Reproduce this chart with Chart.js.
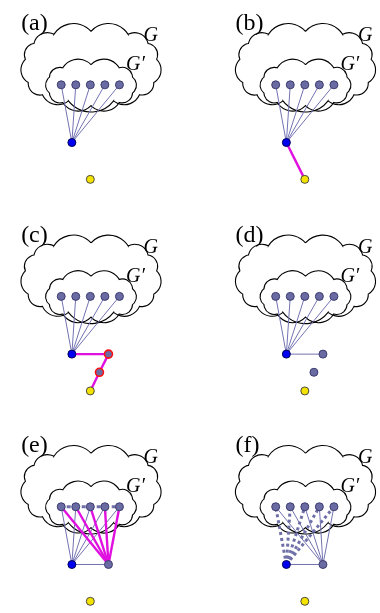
<!DOCTYPE html>
<html>
<head>
<meta charset="utf-8">
<script src="https://cdn.jsdelivr.net/npm/chart.js@4.4.0/dist/chart.umd.min.js"></script>
<style>
html, body { margin: 0; padding: 0; background: #fff; overflow: hidden; }
</style>
</head>
<body>
<canvas id="figure" width="380" height="613"></canvas>
<script>
// panel labels and where each panel sits on the page
var panelNames = ['(a)', '(b)', '(c)', '(d)', '(e)', '(f)'];
var panelX = [0, 221, 0, 221, 0, 221];
var panelY = [0, 0, 215.5, 215.5, 429.8, 429.8];

// node positions inside one panel
var topX = [57.3, 72.3, 87.3, 102.3, 117.3];
var topY = 80.7;
var hub = [68.3, 139.5];
var leaf = [87.3, 177];
var chainX = [106, 96.7];
var chainY = [139.5, 158];

// clouds: [centerX, centerY, radiusX, radiusY, bumps, squareness]
var cloudG = [88, 62, 68, 36, 13, 0.75];
var cloudGp = [88, 81, 44.5, 21, 10, 0.8];

var slate = '#6b6ba3';
var thin = { color: '#7272b2', width: 1 };
var magenta = { color: '#e010e0', width: 2.4 };
var dotted = { color: '#7070a8', width: 3, dash: [3, 3] };
var dashedPath = { color: '#7070a8', width: 3, dash: [4, 3.5], offset: 2 };

var datasets = [];
var nodes = [];

function edge(p, q, st) {
    datasets.push({
        type: 'line',
        data: [{ x: p[0], y: p[1] }, { x: q[0], y: q[1] }],
        borderColor: st.color,
        borderWidth: st.width,
        borderDash: st.dash || [],
        borderDashOffset: st.offset || 0,
        pointRadius: 0,
        fill: false,
        order: 2
    });
}
function node(p, fill, border, bw) {
    nodes.push({ x: p[0], y: p[1], fill: fill, border: border, bw: bw || 1 });
}

for (var k = 0; k < 6; k++) {
    var ox = panelX[k], oy = panelY[k];
    var at = function (x, y) { return [x + ox, y + oy]; };
    var H = at(hub[0], hub[1]);
    var L = at(leaf[0], leaf[1]);
    var C0 = at(chainX[0], chainY[0]);
    var C1 = at(chainX[1], chainY[1]);
    var tops = topX.map(function (x) { return at(x, topY); });

    for (var i = 0; i < tops.length; i++) {
        if (k == 5) {
            edge(H, tops[i], dotted);
            edge(C0, tops[i], thin);
        } else {
            edge(H, tops[i], thin);
        }
        if (k == 4) edge(C0, tops[i], magenta);
    }
    if (k == 1) edge(H, L, magenta);
    if (k == 2) {
        edge(H, C0, magenta);
        edge(C0, C1, magenta);
        edge(C1, L, magenta);
    }
    if (k >= 3) edge(H, C0, thin);
    if (k == 4) edge(tops[0], tops[4], dashedPath);

    tops.forEach(function (t) { node(t, slate, '#3c3c70'); });
    node(H, '#0000f0', '#00005a');
    node(L, '#f4e200', '#4a4a40');
    if (k == 2) {
        node(C0, slate, '#ff1010', 1.6);
        node(C1, slate, '#ff1010', 1.6);
    } else if (k == 3) {
        node(C0, slate, '#3c3c70');
        node(C1, slate, '#3c3c70');
    } else if (k >= 4) {
        node(C0, slate, '#3c3c70');
    }
}

datasets.push({
    type: 'scatter',
    data: nodes.map(function (n) { return { x: n.x, y: n.y }; }),
    backgroundColor: nodes.map(function (n) { return n.fill; }),
    borderColor: nodes.map(function (n) { return n.border; }),
    borderWidth: nodes.map(function (n) { return n.bw; }),
    pointRadius: 4,
    order: 0
});

function sq(v, e) {
    return (v < 0 ? -1 : 1) * Math.pow(Math.abs(v), e);
}

function drawCloud(ctx, xs, ys, c, ox, oy) {
    var s = xs.getPixelForValue(1) - xs.getPixelForValue(0);
    var cx = c[0] + ox, cy = c[1] + oy, n = c[4];
    var pts = [];
    for (var i = 0; i <= n; i++) {
        var t = -Math.PI / 2 + 2 * Math.PI * i / n;
        pts.push([cx + c[2] * sq(Math.cos(t), c[5]), cy + c[3] * sq(Math.sin(t), c[5])]);
    }
    ctx.beginPath();
    for (var j = 0; j < n; j++) {
        var p = pts[j], q = pts[j + 1];
        var mx = (p[0] + q[0]) / 2, my = (p[1] + q[1]) / 2;
        var dx = q[0] - p[0], dy = q[1] - p[1];
        var len = Math.sqrt(dx * dx + dy * dy);
        var nx = dy / len, ny = -dx / len;
        var d = len * 0.38;
        var ccx = mx - nx * d, ccy = my - ny * d;
        var r = Math.sqrt(len * len / 4 + d * d);
        var px = xs.getPixelForValue(ccx), py = ys.getPixelForValue(ccy);
        var a0 = Math.atan2(p[1] - ccy, p[0] - ccx);
        var a1 = Math.atan2(q[1] - ccy, q[0] - ccx);
        ctx.arc(px, py, r * s, a0, a1, false);
    }
    ctx.stroke();
}

var cloudPlugin = {
    id: 'clouds',
    beforeDatasetsDraw: function (chart) {
        var ctx = chart.ctx, xs = chart.scales.x, ys = chart.scales.y;
        ctx.save();
        ctx.strokeStyle = '#000';
        ctx.lineWidth = 1.1;
        for (var k = 0; k < 6; k++) {
            drawCloud(ctx, xs, ys, cloudG, panelX[k], panelY[k]);
            drawCloud(ctx, xs, ys, cloudGp, panelX[k], panelY[k]);
        }
        ctx.restore();
    },
    afterDraw: function (chart) {
        var ctx = chart.ctx, xs = chart.scales.x, ys = chart.scales.y;
        ctx.save();
        ctx.fillStyle = '#000';
        ctx.textBaseline = 'alphabetic';
        for (var k = 0; k < 6; k++) {
            var ox = panelX[k], oy = panelY[k];
            ctx.font = '24px "Liberation Serif"';
            ctx.fillText(panelNames[k], xs.getPixelForValue(16 + ox), ys.getPixelForValue(25 + oy));
            ctx.font = 'italic 20px "Liberation Serif"';
            ctx.fillText('G', xs.getPixelForValue(142 + ox), ys.getPixelForValue(36 + oy));
            ctx.fillText('G\u2032', xs.getPixelForValue(124 + ox), ys.getPixelForValue(66 + oy));
        }
        ctx.restore();
    }
};

var ctx = document.getElementById('figure').getContext('2d');
var figure = new Chart(ctx, {
    type: 'scatter',
    data: { datasets: datasets },
    options: {
        responsive: false,
        animation: false,
        events: [],
        layout: { padding: 0 },
        plugins: { legend: { display: false }, tooltip: { enabled: false } },
        scales: {
            x: { type: 'linear', min: 0, max: 380, display: false },
            y: { type: 'linear', min: 0, max: 613, reverse: true, display: false }
        }
    },
    plugins: [cloudPlugin]
});
</script>
</body>
</html>
